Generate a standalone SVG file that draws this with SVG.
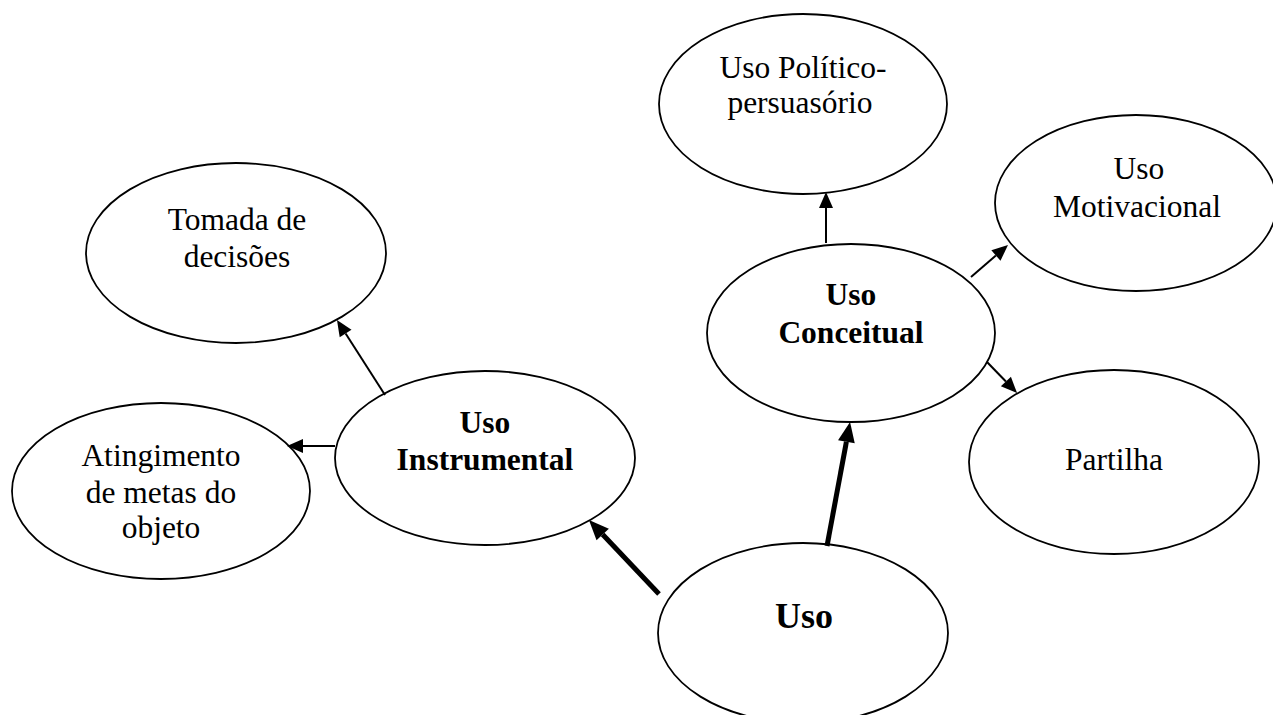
<svg xmlns="http://www.w3.org/2000/svg" width="1273" height="715" viewBox="0 0 1273 715">
  <style>
    .node { fill: #ffffff; stroke: #000000; stroke-width: 1.8; }
    .lbl { font-family: "Liberation Serif", "Times New Roman", serif; font-size: 31.5px; fill: #000000; text-anchor: middle; }
    .bold { font-weight: bold; }
    .thin { stroke: #000000; stroke-width: 2; fill: none; marker-end: url(#head); }
    .thick { stroke: #000000; stroke-width: 5; fill: none; marker-end: url(#headBig); }
  </style>
  <defs>
    <marker id="head" markerUnits="userSpaceOnUse" viewBox="0 -7 16 14" markerWidth="16" markerHeight="14" refX="0" refY="0" orient="auto" overflow="visible">
      <path d="M0,-7 L16,0 L0,7 Z" fill="#000000"/>
    </marker>
    <marker id="headBig" markerUnits="userSpaceOnUse" viewBox="0 -9 20 18" markerWidth="20" markerHeight="18" refX="0" refY="0" orient="auto" overflow="visible">
      <path d="M0,-8.5 L20,0 L0,8.5 Z" fill="#000000"/>
    </marker>
  </defs>

  <rect width="1273" height="715" fill="#ffffff"/>

  <g id="node-politico">
    <ellipse class="node" cx="803" cy="104" rx="144" ry="90"/>
    <text class="lbl" x="803" y="78">Uso Político-</text>
    <text class="lbl" x="800" y="113">persuasório</text>
  </g>

  <g id="node-motivacional">
    <ellipse class="node" cx="1136" cy="203" rx="141" ry="88"/>
    <text class="lbl" x="1139" y="179">Uso</text>
    <text class="lbl" x="1137" y="217">Motivacional</text>
  </g>

  <g id="node-tomada">
    <ellipse class="node" cx="236" cy="253" rx="150" ry="90"/>
    <text class="lbl" x="237" y="230">Tomada de</text>
    <text class="lbl" x="237" y="267">decisões</text>
  </g>

  <g id="node-conceitual">
    <ellipse class="node" cx="851" cy="333" rx="144" ry="89"/>
    <text class="lbl bold" x="851" y="305">Uso</text>
    <text class="lbl bold" x="851" y="343">Conceitual</text>
  </g>

  <g id="node-instrumental">
    <ellipse class="node" cx="485" cy="458" rx="150" ry="87"/>
    <text class="lbl bold" x="485" y="433">Uso</text>
    <text class="lbl bold" x="485" y="470">Instrumental</text>
  </g>

  <g id="node-atingimento">
    <ellipse class="node" cx="161" cy="491" rx="149" ry="88"/>
    <text class="lbl" x="161" y="466">Atingimento</text>
    <text class="lbl" x="161" y="503">de metas do</text>
    <text class="lbl" x="161" y="538">objeto</text>
  </g>

  <g id="node-partilha">
    <ellipse class="node" cx="1114" cy="462" rx="145" ry="92"/>
    <text class="lbl" x="1114" y="470">Partilha</text>
  </g>

  <g id="node-uso">
    <ellipse class="node" cx="803" cy="633" rx="145" ry="90"/>
    <text class="lbl bold" x="804" y="628" style="font-size:36px">Uso</text>
  </g>

  <g id="connectors">
    <line class="thin" x1="826" y1="243" x2="826" y2="208"/>
    <line class="thin" x1="971" y1="277" x2="995.9" y2="255.5"/>
    <line class="thin" x1="987" y1="362" x2="1005.9" y2="381.5"/>
    <line class="thick" x1="827" y1="546" x2="846.4" y2="441.7"/>
    <line class="thick" x1="659" y1="594" x2="602.7" y2="534.5"/>
    <line class="thin" x1="385" y1="395" x2="345.6" y2="333.5"/>
    <line class="thin" x1="335" y1="446" x2="303" y2="446"/>
  </g>
</svg>
